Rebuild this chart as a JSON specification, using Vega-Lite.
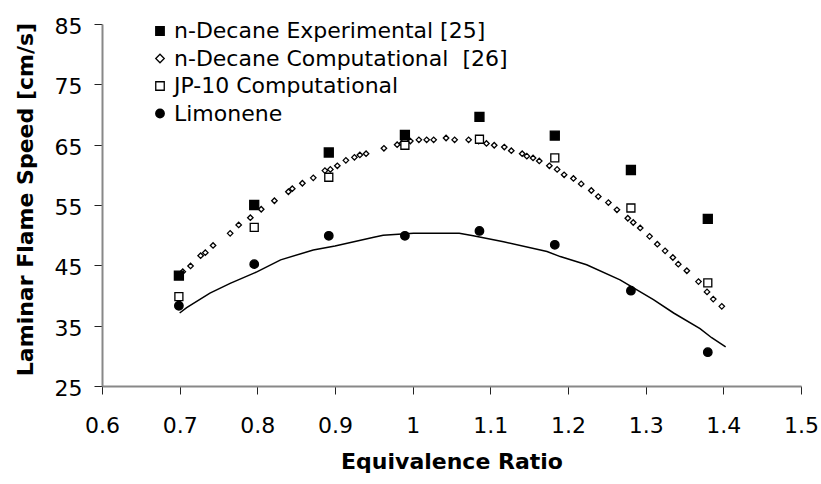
{
  "$schema": "https://vega.github.io/schema/vega-lite/v6.json",
  "width": 699,
  "height": 362,
  "autosize": {"type": "none"},
  "padding": {"left": 102, "top": 24, "right": 20, "bottom": 98},
  "background": "white",
  "config": {
    "view": {"stroke": null},
    "font": "DejaVu Sans",
    "axis": {
      "grid": false,
      "domainColor": "#888888",
      "domainWidth": 2,
      "tickColor": "#222222",
      "tickWidth": 1,
      "tickSize": 8,
      "labelFont": "DejaVu Sans",
      "labelFontSize": 22,
      "labelColor": "black",
      "titleFont": "DejaVu Sans",
      "titleFontSize": 22,
      "titleFontWeight": "bold",
      "titleColor": "black"
    },
    "legend": {
      "orient": "none",
      "legendX": 47,
      "legendY": -4,
      "padding": 0,
      "rowPadding": 5.5,
      "labelFont": "DejaVu Sans",
      "labelFontSize": 22,
      "labelColor": "black",
      "labelOffset": 3,
      "labelLimit": 500,
      "symbolSize": 72,
      "symbolStrokeWidth": 1.3,
      "title": null
    }
  },
  "layer": [
    {
      "data": {
        "values": [
          {"phi": 0.700, "speed": 37.1},
          {"phi": 0.709, "speed": 38.0},
          {"phi": 0.739, "speed": 40.4},
          {"phi": 0.765, "speed": 42.0},
          {"phi": 0.800, "speed": 43.95},
          {"phi": 0.830, "speed": 45.9},
          {"phi": 0.872, "speed": 47.55},
          {"phi": 0.900, "speed": 48.2},
          {"phi": 0.950, "speed": 49.66},
          {"phi": 0.962, "speed": 50.0},
          {"phi": 1.001, "speed": 50.3},
          {"phi": 1.044, "speed": 50.3},
          {"phi": 1.060, "speed": 50.3},
          {"phi": 1.078, "speed": 49.9},
          {"phi": 1.117, "speed": 48.9},
          {"phi": 1.173, "speed": 47.3},
          {"phi": 1.190, "speed": 46.45},
          {"phi": 1.224, "speed": 45.1},
          {"phi": 1.267, "speed": 42.6},
          {"phi": 1.310, "speed": 39.3},
          {"phi": 1.336, "speed": 37.1},
          {"phi": 1.370, "speed": 34.5},
          {"phi": 1.385, "speed": 33.0},
          {"phi": 1.403, "speed": 31.5}
        ]
      },
      "mark": {"type": "line", "color": "black", "strokeWidth": 1.5},
      "encoding": {
        "x": {
          "field": "phi", "type": "quantitative",
          "scale": {"domain": [0.6, 1.5], "nice": false, "zero": false},
          "axis": {
            "title": "Equivalence Ratio",
            "values": [0.6, 0.7, 0.8, 0.9, 1, 1.1, 1.2, 1.3, 1.4, 1.5],
            "format": "~g",
            "labelBaseline": "alphabetic",
            "labelPadding": 38,
            "labelFlush": false,
            "labelOverlap": false,
            "titleBaseline": "alphabetic",
            "titleY": 82.5
          }
        },
        "y": {
          "field": "speed", "type": "quantitative",
          "scale": {"domain": [25, 85], "nice": false, "zero": false},
          "axis": {
            "title": "Laminar Flame Speed [cm/s]",
            "values": [25, 35, 45, 55, 65, 75, 85],
            "format": "~g",
            "labelBaseline": "alphabetic",
            "labelOffset": 9.5,
            "labelPadding": 12,
            "labelFlush": false,
            "labelOverlap": false,
            "titleAngle": 270,
            "titleBaseline": "alphabetic",
            "titleAlign": "center",
            "titleX": -70,
            "titleY": 175
          }
        }
      }
    },
    {
      "data": {
        "values": [
          {"phi": 0.704, "speed": 43.95, "series": "n-Decane Computational\u00a0 [26]"},
          {"phi": 0.714, "speed": 44.9, "series": "n-Decane Computational\u00a0 [26]"},
          {"phi": 0.727, "speed": 46.6, "series": "n-Decane Computational\u00a0 [26]"},
          {"phi": 0.733, "speed": 47.1, "series": "n-Decane Computational\u00a0 [26]"},
          {"phi": 0.743, "speed": 48.3, "series": "n-Decane Computational\u00a0 [26]"},
          {"phi": 0.765, "speed": 50.3, "series": "n-Decane Computational\u00a0 [26]"},
          {"phi": 0.776, "speed": 51.7, "series": "n-Decane Computational\u00a0 [26]"},
          {"phi": 0.791, "speed": 52.9, "series": "n-Decane Computational\u00a0 [26]"},
          {"phi": 0.805, "speed": 54.3, "series": "n-Decane Computational\u00a0 [26]"},
          {"phi": 0.822, "speed": 55.7, "series": "n-Decane Computational\u00a0 [26]"},
          {"phi": 0.840, "speed": 57.2, "series": "n-Decane Computational\u00a0 [26]"},
          {"phi": 0.845, "speed": 57.7, "series": "n-Decane Computational\u00a0 [26]"},
          {"phi": 0.858, "speed": 58.6, "series": "n-Decane Computational\u00a0 [26]"},
          {"phi": 0.872, "speed": 59.5, "series": "n-Decane Computational\u00a0 [26]"},
          {"phi": 0.887, "speed": 60.7, "series": "n-Decane Computational\u00a0 [26]"},
          {"phi": 0.894, "speed": 60.9, "series": "n-Decane Computational\u00a0 [26]"},
          {"phi": 0.903, "speed": 61.5, "series": "n-Decane Computational\u00a0 [26]"},
          {"phi": 0.914, "speed": 62.4, "series": "n-Decane Computational\u00a0 [26]"},
          {"phi": 0.925, "speed": 62.9, "series": "n-Decane Computational\u00a0 [26]"},
          {"phi": 0.932, "speed": 63.3, "series": "n-Decane Computational\u00a0 [26]"},
          {"phi": 0.940, "speed": 63.5, "series": "n-Decane Computational\u00a0 [26]"},
          {"phi": 0.963, "speed": 64.4, "series": "n-Decane Computational\u00a0 [26]"},
          {"phi": 0.980, "speed": 65.0, "series": "n-Decane Computational\u00a0 [26]"},
          {"phi": 0.986, "speed": 65.2, "series": "n-Decane Computational\u00a0 [26]"},
          {"phi": 0.997, "speed": 65.6, "series": "n-Decane Computational\u00a0 [26]"},
          {"phi": 1.008, "speed": 65.8, "series": "n-Decane Computational\u00a0 [26]"},
          {"phi": 1.018, "speed": 65.8, "series": "n-Decane Computational\u00a0 [26]"},
          {"phi": 1.027, "speed": 65.8, "series": "n-Decane Computational\u00a0 [26]"},
          {"phi": 1.043, "speed": 66.1, "series": "n-Decane Computational\u00a0 [26]"},
          {"phi": 1.054, "speed": 65.8, "series": "n-Decane Computational\u00a0 [26]"},
          {"phi": 1.072, "speed": 65.8, "series": "n-Decane Computational\u00a0 [26]"},
          {"phi": 1.085, "speed": 65.6, "series": "n-Decane Computational\u00a0 [26]"},
          {"phi": 1.095, "speed": 65.2, "series": "n-Decane Computational\u00a0 [26]"},
          {"phi": 1.105, "speed": 64.9, "series": "n-Decane Computational\u00a0 [26]"},
          {"phi": 1.118, "speed": 64.6, "series": "n-Decane Computational\u00a0 [26]"},
          {"phi": 1.127, "speed": 64.0, "series": "n-Decane Computational\u00a0 [26]"},
          {"phi": 1.141, "speed": 63.5, "series": "n-Decane Computational\u00a0 [26]"},
          {"phi": 1.147, "speed": 63.1, "series": "n-Decane Computational\u00a0 [26]"},
          {"phi": 1.155, "speed": 62.8, "series": "n-Decane Computational\u00a0 [26]"},
          {"phi": 1.163, "speed": 62.3, "series": "n-Decane Computational\u00a0 [26]"},
          {"phi": 1.176, "speed": 61.5, "series": "n-Decane Computational\u00a0 [26]"},
          {"phi": 1.186, "speed": 60.9, "series": "n-Decane Computational\u00a0 [26]"},
          {"phi": 1.195, "speed": 60.0, "series": "n-Decane Computational\u00a0 [26]"},
          {"phi": 1.207, "speed": 59.4, "series": "n-Decane Computational\u00a0 [26]"},
          {"phi": 1.217, "speed": 58.5, "series": "n-Decane Computational\u00a0 [26]"},
          {"phi": 1.230, "speed": 57.4, "series": "n-Decane Computational\u00a0 [26]"},
          {"phi": 1.239, "speed": 56.4, "series": "n-Decane Computational\u00a0 [26]"},
          {"phi": 1.252, "speed": 55.4, "series": "n-Decane Computational\u00a0 [26]"},
          {"phi": 1.263, "speed": 54.2, "series": "n-Decane Computational\u00a0 [26]"},
          {"phi": 1.277, "speed": 52.8, "series": "n-Decane Computational\u00a0 [26]"},
          {"phi": 1.284, "speed": 52.1, "series": "n-Decane Computational\u00a0 [26]"},
          {"phi": 1.293, "speed": 51.2, "series": "n-Decane Computational\u00a0 [26]"},
          {"phi": 1.305, "speed": 49.8, "series": "n-Decane Computational\u00a0 [26]"},
          {"phi": 1.315, "speed": 48.5, "series": "n-Decane Computational\u00a0 [26]"},
          {"phi": 1.325, "speed": 47.4, "series": "n-Decane Computational\u00a0 [26]"},
          {"phi": 1.335, "speed": 46.3, "series": "n-Decane Computational\u00a0 [26]"},
          {"phi": 1.342, "speed": 45.2, "series": "n-Decane Computational\u00a0 [26]"},
          {"phi": 1.353, "speed": 44.1, "series": "n-Decane Computational\u00a0 [26]"},
          {"phi": 1.368, "speed": 42.3, "series": "n-Decane Computational\u00a0 [26]"},
          {"phi": 1.379, "speed": 40.6, "series": "n-Decane Computational\u00a0 [26]"},
          {"phi": 1.387, "speed": 39.4, "series": "n-Decane Computational\u00a0 [26]"},
          {"phi": 1.398, "speed": 38.2, "series": "n-Decane Computational\u00a0 [26]"},
          {"phi": 0.699, "speed": 43.3, "series": "n-Decane Experimental [25]"},
          {"phi": 0.796, "speed": 55.0, "series": "n-Decane Experimental [25]"},
          {"phi": 0.892, "speed": 63.7, "series": "n-Decane Experimental [25]"},
          {"phi": 0.990, "speed": 66.6, "series": "n-Decane Experimental [25]"},
          {"phi": 1.086, "speed": 69.6, "series": "n-Decane Experimental [25]"},
          {"phi": 1.183, "speed": 66.5, "series": "n-Decane Experimental [25]"},
          {"phi": 1.281, "speed": 60.8, "series": "n-Decane Experimental [25]"},
          {"phi": 1.380, "speed": 52.7, "series": "n-Decane Experimental [25]"},
          {"phi": 0.699, "speed": 39.8, "series": "JP-10 Computational"},
          {"phi": 0.796, "speed": 51.3, "series": "JP-10 Computational"},
          {"phi": 0.892, "speed": 59.6, "series": "JP-10 Computational"},
          {"phi": 0.990, "speed": 64.9, "series": "JP-10 Computational"},
          {"phi": 1.086, "speed": 65.9, "series": "JP-10 Computational"},
          {"phi": 1.183, "speed": 62.8, "series": "JP-10 Computational"},
          {"phi": 1.281, "speed": 54.5, "series": "JP-10 Computational"},
          {"phi": 1.380, "speed": 42.1, "series": "JP-10 Computational"},
          {"phi": 0.699, "speed": 38.3, "series": "Limonene"},
          {"phi": 0.796, "speed": 45.2, "series": "Limonene"},
          {"phi": 0.892, "speed": 49.9, "series": "Limonene"},
          {"phi": 0.990, "speed": 49.9, "series": "Limonene"},
          {"phi": 1.086, "speed": 50.7, "series": "Limonene"},
          {"phi": 1.183, "speed": 48.4, "series": "Limonene"},
          {"phi": 1.281, "speed": 40.8, "series": "Limonene"},
          {"phi": 1.380, "speed": 30.6, "series": "Limonene"}
        ]
      },
      "mark": {"type": "point", "filled": true, "strokeWidth": 1.3, "opacity": 1},
      "encoding": {
        "x": {"field": "phi", "type": "quantitative"},
        "y": {"field": "speed", "type": "quantitative"},
        "shape": {
          "field": "series", "type": "nominal",
          "scale": {
            "domain": ["n-Decane Experimental [25]", "n-Decane Computational\u00a0 [26]", "JP-10 Computational", "Limonene"],
            "range": ["square", "diamond", "square", "circle"]
          }
        },
        "fill": {
          "field": "series", "type": "nominal",
          "scale": {
            "domain": ["n-Decane Experimental [25]", "n-Decane Computational\u00a0 [26]", "JP-10 Computational", "Limonene"],
            "range": ["black", "white", "white", "black"]
          }
        },
        "stroke": {
          "field": "series", "type": "nominal",
          "scale": {
            "domain": ["n-Decane Experimental [25]", "n-Decane Computational\u00a0 [26]", "JP-10 Computational", "Limonene"],
            "range": ["black", "black", "black", "black"]
          }
        },
        "size": {
          "condition": [
            {"test": "datum.series === 'JP-10 Computational'", "value": 64},
            {"test": "datum.series === 'Limonene'", "value": 72},
            {"test": "datum.series === 'n-Decane Experimental [25]'", "value": 81}
          ],
          "value": 30
        }
      }
    }
  ]
}
